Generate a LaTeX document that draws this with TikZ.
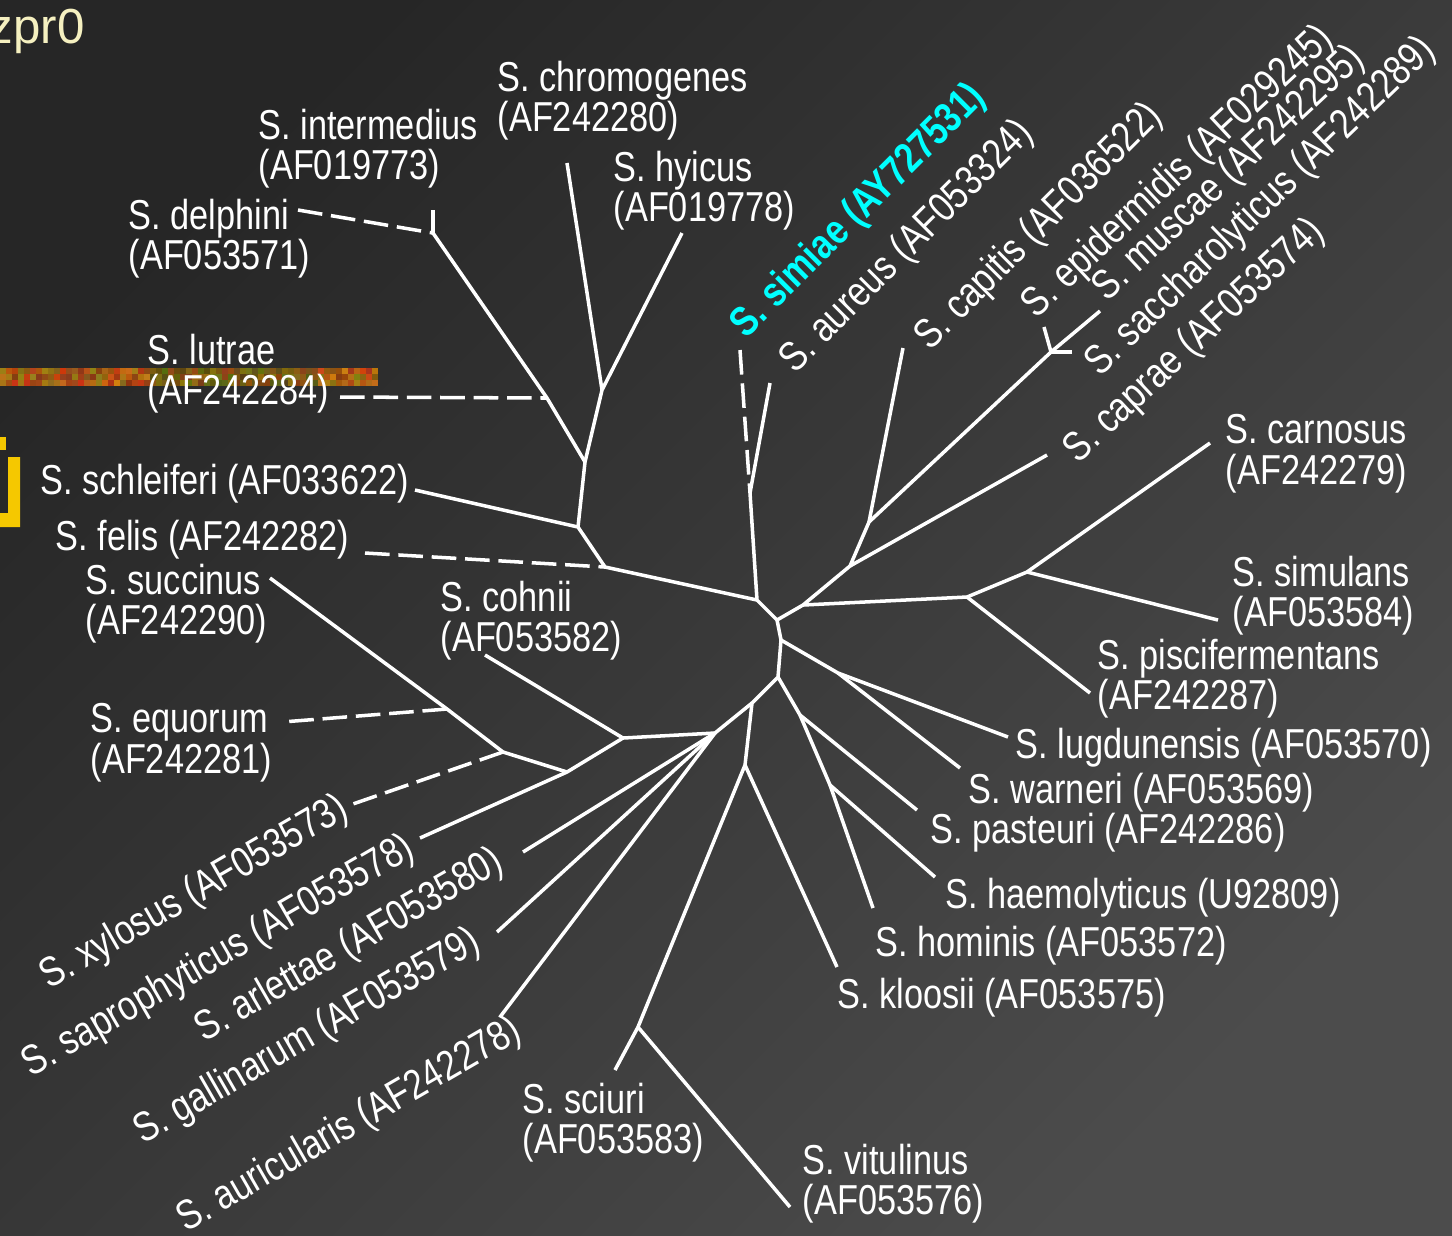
\documentclass[tikz,border=0pt]{standalone}
\usepackage{fontspec}
\setmainfont{Liberation Sans}[FakeStretch=0.82]
\newfontfamily\plainfont{Liberation Sans}
\usetikzlibrary{calc}

\definecolor{bgdark}{RGB}{38,38,38}
\definecolor{bgmid}{RGB}{64,64,64}
\definecolor{bglight}{RGB}{76,76,76}
\definecolor{simcyan}{RGB}{0,255,255}
\definecolor{palegold}{RGB}{245,240,192}
\definecolor{gold}{RGB}{245,200,0}

\tikzset{
  branch/.style={draw=white, line width=1pt},
  gappy/.style={branch, dash pattern=on 7pt off 2.5pt},
  lbl/.style={text=white, inner sep=0pt, align=left, anchor=north west,
    font=\fontsize{11.9}{11.4}\selectfont},
  tilt/.style={lbl, anchor=base west, rotate=#1},
}

\begin{document}
\begin{tikzpicture}[x=0.01cm, y=-0.01cm]
\useasboundingbox (0,0) rectangle (1452,1235);
\clip (0,0) rectangle (1452,1235);
\shade[top color=bgdark, middle color=bgmid, bottom color=bglight, shading angle=45]
  (0,0) rectangle (1452,1235);

% bits of the slide behind
\node[anchor=base west, inner sep=0pt, text=palegold,
  font=\plainfont\fontsize{14}{14}\selectfont] (slidetitle) at (-12,43) {zpr0};
\fill[gold] (8,457) -- (20,457) -- (20,527) -- (0,527) -- (0,513) -- (8,513) -- cycle;
\fill[gold] (0,437) rectangle (6,450);
\pgfmathsetseed{42}
\foreach \i in {0,...,62}{
  \foreach \j in {0,1,2}{
    \pgfmathtruncatemacro\rr{(\i>24 && \i<53) ? 80+80*rnd : 130+80*rnd}
    \pgfmathtruncatemacro\gg{(\i>24 && \i<53) ? 60+60*rnd : 50+80*rnd}
    \pgfmathtruncatemacro\bb{10+20*rnd}
    \definecolor{grain}{RGB}{\rr,\gg,\bb}
    \fill[grain] (\i*6,368+\j*6) rectangle ++(6,6);
  }
}

% inner nodes of the tree
\coordinate (c0) at (777,620);
\coordinate (a2) at (757,600);
\coordinate (a1) at (750,493);
\coordinate (b1) at (605,567);
\coordinate (b2) at (578,527);
\coordinate (m) at (585,462);
\coordinate (l) at (547,398);
\coordinate (d) at (433,233);
\coordinate (h) at (602,390);
\coordinate (c1) at (803,605);
\coordinate (k1) at (850,566);
\coordinate (k2) at (869,522);
\coordinate (k3) at (1051,352);
\coordinate (r1) at (967,597);
\coordinate (r2) at (1027,572);
\coordinate (q1) at (781,640);
\coordinate (q2) at (778,677);
\coordinate (lw) at (838,673);
\coordinate (ph) at (800,715);
\coordinate (hh) at (830,785);
\coordinate (n0) at (752,703);
\coordinate (kv) at (745,765);
\coordinate (v) at (638,1027);
\coordinate (g0) at (715,733);
\coordinate (ll1) at (623,738);
\coordinate (s) at (567,772);
\coordinate (x) at (503,752);
\coordinate (eq) at (447,709);

% leaf ends
\coordinate (delphini) at (298,210);
\coordinate (intermedius) at (433,210);
\coordinate (lutrae) at (340,397);
\coordinate (chromogenes) at (567,163);
\coordinate (hyicus) at (682,233);
\coordinate (schleiferi) at (415,490);
\coordinate (felis) at (365,553);
\coordinate (simiae) at (740,350);
\coordinate (aureus) at (770,383);
\coordinate (capitis) at (903,348);
\coordinate (epidermidis) at (1044,327);
\coordinate (muscae) at (1100,311);
\coordinate (saccharolyticus) at (1072,352);
\coordinate (caprae) at (1047,455);
\coordinate (carnosus) at (1210,443);
\coordinate (simulans) at (1218,620);
\coordinate (piscifermentans) at (1090,693);
\coordinate (lugdunensis) at (1008,737);
\coordinate (warneri) at (960,768);
\coordinate (pasteuri) at (917,810);
\coordinate (haemolyticus) at (935,877);
\coordinate (hominis) at (873,908);
\coordinate (kloosii) at (837,967);
\coordinate (sciuri) at (615,1070);
\coordinate (vitulinus) at (790,1207);
\coordinate (cohnii) at (485,655);
\coordinate (succinus) at (270,578);
\coordinate (equorum) at (282,722);
\coordinate (xylosus) at (350,805);
\coordinate (saprophyticus) at (420,838);
\coordinate (arlettae) at (523,852);
\coordinate (gallinarum) at (497,932);
\coordinate (auricularis) at (500,1017);

% branches
\draw[gappy] (delphini) -- (d);
\draw[branch] (intermedius) -- (d) -- (l) -- (m);
\draw[gappy] (lutrae) -- (l);
\draw[branch] (chromogenes) -- (h);
\draw[branch] (hyicus) -- (h) -- (m) -- (b2);
\draw[branch] (schleiferi) -- (b2) -- (b1) -- (a2);
\draw[gappy] (felis) -- (b1);
\draw[gappy] (simiae) -- (a1);
\draw[branch] (aureus) -- (a1) -- (a2) -- (c0);
\draw[branch] (c0) -- (c1) -- (k1) -- (k2) -- (k3);
\draw[branch] (capitis) -- (k2);
\draw[branch] (caprae) -- (k1);
\draw[branch] (epidermidis) -- (k3) -- (muscae);
\draw[branch] (saccharolyticus) -- (k3);
\draw[branch] (c1) -- (r1) -- (r2) -- (carnosus);
\draw[branch] (r2) -- (simulans);
\draw[branch] (r1) -- (piscifermentans);
\draw[branch] (c0) -- (q1) -- (q2) -- (n0) -- (kv) -- (v) -- (sciuri);
\draw[branch] (v) -- (vitulinus);
\draw[branch] (kv) -- (kloosii);
\draw[branch] (q1) -- (lw) -- (lugdunensis);
\draw[branch] (lw) -- (warneri);
\draw[branch] (q2) -- (ph) -- (pasteuri);
\draw[branch] (ph) -- (hh) -- (haemolyticus);
\draw[branch] (hh) -- (hominis);
\draw[branch] (n0) -- (g0) -- (ll1) -- (cohnii);
\draw[branch] (ll1) -- (s) -- (saprophyticus);
\draw[branch] (s) -- (x) -- (eq) -- (succinus);
\draw[gappy] (x) -- (xylosus);
\draw[gappy] (eq) -- (equorum);
\draw[branch] (g0) -- (arlettae);
\draw[branch] (g0) -- (gallinarum);
\draw[branch] (g0) -- (auricularis);

% labels
\node[lbl] (l-chromogenes) at (497,60) {S. chromogenes\\(AF242280)};
\node[lbl] (l-intermedius) at (258,108) {S. intermedius\\(AF019773)};
\node[lbl] (l-hyicus) at (613,150) {S. hyicus\\(AF019778)};
\node[lbl] (l-delphini) at (128,198) {S. delphini\\(AF053571)};
\node[lbl] (l-lutrae) at (147,333) {S. lutrae\\(AF242284)};
\node[lbl] (l-schleiferi) at (40,463) {S. schleiferi (AF033622)};
\node[lbl] (l-felis) at (55,519) {S. felis (AF242282)};
\node[lbl] (l-succinus) at (85,563) {S. succinus\\(AF242290)};
\node[lbl] (l-cohnii) at (440,580) {S. cohnii\\(AF053582)};
\node[lbl] (l-equorum) at (90,703) {S. equorum\\(AF242281)};
\node[lbl] (l-carnosus) at (1225,414) {S. carnosus\\(AF242279)};
\node[lbl] (l-simulans) at (1232,555) {S. simulans\\(AF053584)};
\node[lbl] (l-piscifermentans) at (1097,638) {S. piscifermentans\\(AF242287)};
\node[lbl] (l-lugdunensis) at (1015,727) {S. lugdunensis (AF053570)};
\node[lbl] (l-warneri) at (968,772) {S. warneri (AF053569)};
\node[lbl] (l-pasteuri) at (930,812) {S. pasteuri (AF242286)};
\node[lbl] (l-haemolyticus) at (945,877) {S. haemolyticus (U92809)};
\node[lbl] (l-hominis) at (875,925) {S. hominis (AF053572)};
\node[lbl] (l-kloosii) at (837,977) {S. kloosii (AF053575)};
\node[lbl] (l-sciuri) at (522,1082) {S. sciuri\\(AF053583)};
\node[lbl] (l-vitulinus) at (802,1143) {S. vitulinus\\(AF053576)};

\node[tilt=45, text=simcyan, font=\fontsize{11.9}{11.4}\selectfont\bfseries] (l-simiae) at (746,340) {S. simiae (AY727531)};
\node[tilt=45] (l-aureus) at (795,375) {S. aureus (AF053324)};
\node[tilt=45] (l-capitis) at (930,352) {S. capitis (AF036522)};
\node[tilt=43] (l-epidermidis) at (1036,320) {S. epidermidis (AF029245)};
\node[tilt=43] (l-muscae) at (1107,303) {S. muscae (AF242295)};
\node[tilt=44] (l-saccharolyticus) at (1100,378) {S. saccharolyticus (AF242289)};
\node[tilt=43] (l-caprae) at (1078,465) {S. caprae (AF053574)};

\node[tilt=30] (l-xylosus) at (49,990) {S. xylosus (AF053573)};
\node[tilt=30] (l-saprophyticus) at (31,1078) {S. saprophyticus (AF053578)};
\node[tilt=30] (l-arlettae) at (204,1043) {S. arlettae (AF053580)};
\node[tilt=30] (l-gallinarum) at (143,1145) {S. gallinarum (AF053579)};
\node[tilt=30] (l-auricularis) at (186,1233) {S. auricularis (AF242278)};
\end{tikzpicture}
\end{document}
